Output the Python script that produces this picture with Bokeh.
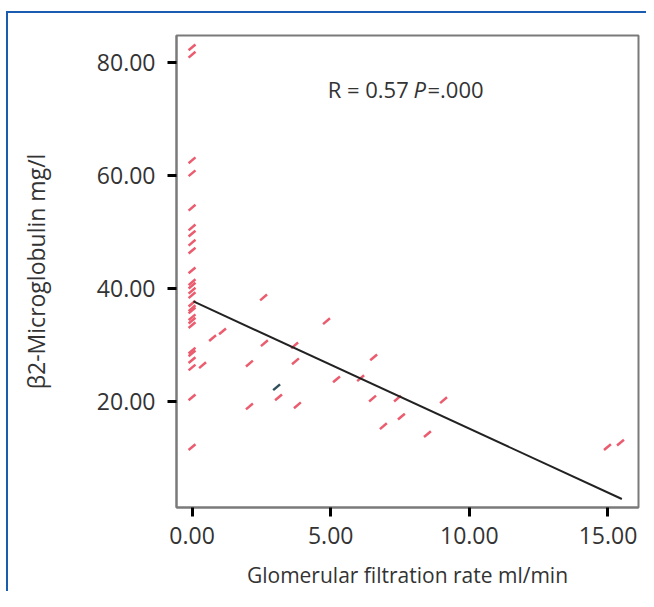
from bokeh.plotting import figure
from bokeh.models import Range1d, FixedTicker, Label, CustomJSTickFormatter
from bokeh.embed import file_html
from bokeh.resources import INLINE

# Data
gfr = [0.0] * 26 + [0.38, 0.74, 1.1, 2.07, 2.07, 2.58, 2.61, 3.12, 3.7, 3.73, 3.8,
                    4.85, 5.21, 6.08, 6.51, 6.55, 6.9, 7.41, 7.55, 8.49, 9.07, 14.98, 15.45]
b2m = [82.7, 81.4, 62.7, 60.4, 54.3, 50.8, 49.7, 48.1, 46.7, 43.2, 41.1, 40.5, 39.6,
       38.8, 37.3, 36.5, 36.1, 34.9, 34.3, 33.5, 29.0, 28.5, 27.3, 26.0, 20.7, 11.9,
       26.4, 31.2, 32.4, 26.7, 19.1, 38.4, 30.3, 20.7, 29.9, 27.1, 19.3,
       34.2, 23.9, 24.1, 20.5, 27.8, 15.6, 20.5, 17.3, 14.2, 20.2, 11.9, 12.7]
other_gfr = [3.05]
other_b2m = [22.5]
fit_x = [0.05, 15.5]
fit_y = [37.7, 2.7]
x_ticks = [0, 5, 10, 15]
y_ticks = [20, 40, 60, 80]
x_title = "Glomerular filtration rate ml/min"
y_title = "β2-Microglobulin mg/l"

FONT = "Open Sans"
TXT = "#333333"
BLUE = "#1a5cb0"

p = figure(width=646, height=591, output_backend="svg", toolbar_location=None,
           x_range=Range1d(-0.56, 16.1), y_range=Range1d(1.2, 84.8),
           min_border_left=176, min_border_right=8, min_border_top=35, min_border_bottom=84)
p.background_fill_color = "white"
p.border_fill_color = None
p.styles = {"background": (f"linear-gradient({BLUE},{BLUE}) 6px 11px / 2px 100% no-repeat, "
                           f"linear-gradient({BLUE},{BLUE}) 6px 11px / 100% 2px no-repeat, white")}
p.outline_line_color = "#7a7a7a"
p.outline_line_width = 2
p.xgrid.visible = False
p.ygrid.visible = False

fmt = CustomJSTickFormatter(code="return tick.toFixed(2);")
for ax, ticks, title in ((p.xaxis[0], x_ticks, x_title), (p.yaxis[0], y_ticks, y_title)):
    ax.ticker = FixedTicker(ticks=ticks)
    ax.formatter = fmt
    ax.axis_label = title
    ax.axis_label_text_font = FONT
    ax.axis_label_text_font_style = "normal"
    ax.axis_label_text_color = TXT
    ax.major_label_text_font = FONT
    ax.major_label_text_font_size = "23px"
    ax.major_label_text_color = TXT
    ax.major_tick_in = 0
    ax.major_tick_out = 9
    ax.major_tick_line_width = 3
    ax.major_tick_line_color = "black"
    ax.minor_tick_line_color = None
    ax.axis_line_color = "#7a7a7a"
    ax.axis_line_width = 2

p.xaxis[0].axis_label_text_font_size = "21px"
p.xaxis[0].major_label_standoff = 10
p.xaxis[0].axis_label_standoff = 14
p.yaxis[0].axis_label_text_font_size = "23px"
p.yaxis[0].major_label_standoff = 12
p.yaxis[0].axis_label_standoff = 42

p.scatter(gfr, b2m, marker="dash", size=9, angle=0.7, line_color="#ea5c6e", line_width=2.5)
p.scatter(other_gfr, other_b2m, marker="dash", size=9, angle=0.7, line_color="#2f4f5a", line_width=2.5)
p.line(fit_x, fit_y, line_color="#222222", line_width=2)

lab_kw = dict(text_font=FONT, text_font_size="22px", text_color=TXT, text_baseline="middle")
p.add_layout(Label(x=4.89, y=75.4, text="R = 0.57", **lab_kw))
p.add_layout(Label(x=7.99, y=75.4, text="P", text_font_style="italic", **lab_kw))
p.add_layout(Label(x=8.49, y=75.4, text="=.000", **lab_kw))

open("out.html", "w").write(file_html(p, INLINE))
